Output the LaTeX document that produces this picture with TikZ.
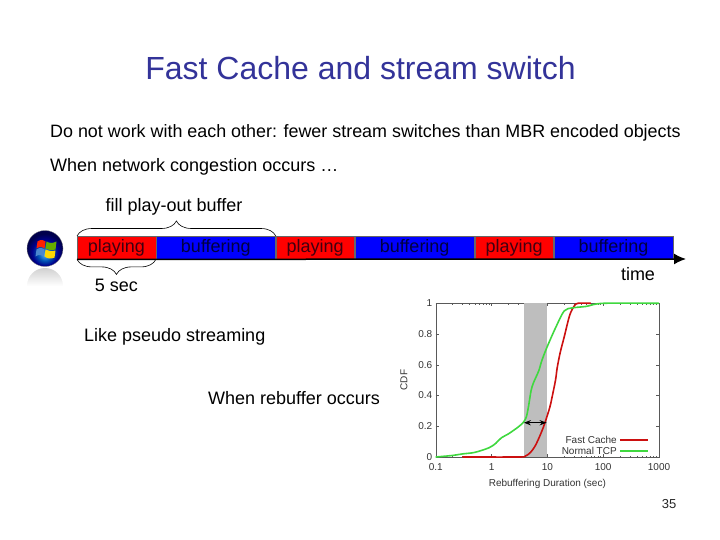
\documentclass[tikz,border=0pt]{standalone}
\usepackage{fontspec}
\setmainfont{Liberation Sans}
\usepackage{pgfplots}
\pgfplotsset{compat=1.18}
\usepackage{xcolor}
\definecolor{titleblue}{HTML}{333399}
\definecolor{playred}{HTML}{FF0000}
\definecolor{bufblue}{HTML}{0000FF}
\definecolor{playtext}{HTML}{400010}
\definecolor{buftext}{HTML}{000040}
\definecolor{plotgray}{HTML}{BEBEBE}
\definecolor{plotred}{HTML}{CC1010}
\definecolor{plotgreen}{HTML}{3FD83F}
\usetikzlibrary{arrows.meta, positioning, decorations.pathreplacing, calc}
\pgfdeclareradialshading{orbshade}{\pgfpoint{0bp}{-9bp}}{
    color(0bp)=(cyan!55!blue!70!white);
    color(10bp)=(cyan!45!blue!70!black);
    color(18bp)=(blue!55!black);
    color(25bp)=(blue!30!black);
    color(50bp)=(blue!30!black)}

\begin{document}
\begin{tikzpicture}[
        x=1pt, y=-1pt,
        node distance=0pt,
        title_text/.style={font=\fontsize{32}{38}\selectfont, text=titleblue},
        body_text/.style={font=\fontsize{18}{21}\selectfont, text=black, inner sep=0pt},
        play_seg/.style={
            rectangle,
            fill=playred,
            draw=black!60,
            line width=0.4pt,
            minimum width=78.5pt,
            minimum height=23pt,
            inner sep=0pt,
            font=\fontsize{18}{21}\selectfont,
            text=playtext
        },
        buf_seg/.style={
            rectangle,
            fill=bufblue,
            draw=black!60,
            line width=0.4pt,
            minimum width=119.5pt,
            minimum height=23pt,
            inner sep=0pt,
            font=\fontsize{18}{21}\selectfont,
            text=buftext
        },
        arrow/.style={
            -{Latex[length=12pt, width=11pt]},
            draw=black,
            line width=1.5pt
        },
        curly/.style={
            decorate,
            decoration={brace, amplitude=15pt},
            draw=black,
            line width=0.6pt
        }
    ]
    \useasboundingbox (0,0) rectangle (720,540);

    % Heading and the two text lines
    \node[title_text] (title) at (360.5,68) {Fast Cache and stream switch};
    \node[body_text, font=\fontsize{17.9}{21}\selectfont, anchor=west] (line1) at (50,133) {Do not work with each other: fewer stream switches than MBR encoded objects};
    \node[body_text, anchor=west] (line2) at (50,167) {When network congestion occurs …};

    % Play and buffer bar
    \node[play_seg, anchor=north west] (play1) at (77,236) {playing};
    \node[buf_seg, right=of play1] (buf1) {buffering};
    \node[play_seg, right=of buf1] (play2) {playing};
    \node[buf_seg, right=of play2] (buf2) {buffering};
    \node[play_seg, right=of buf2] (play3) {playing};
    \node[buf_seg, right=of play3] (buf3) {buffering};

    % Time axis
    \coordinate (timeend) at (686,259);
    \draw[arrow] (play1.south west) -- (timeend);
    \node[body_text] (time) at (638,274) {time};

    % Braces
    \draw[curly] (play1.north west) -- (buf1.north east);
    \node[body_text] (fill) at (174,207) {fill play-out buffer};
    \draw[curly] (play1.south east) -- (play1.south west);
    \node[body_text] (fivesec) at (116.5,285) {5 sec};

    % Notes
    \node[body_text, anchor=west] (pseudo) at (84,337) {Like pseudo streaming};
    \node[body_text, anchor=west] (rebuffer) at (208,398) {When rebuffer occurs};
    \node[font=\fontsize{13}{15}\selectfont, text=black!85] (page) at (669,504) {35};

    % Windows logo
    \begin{scope}
        \clip (45,286) circle (18);
        \shade[top color=black!18, bottom color=white] (25,268) rectangle (65,286);
        \fill[white] (25,286) rectangle (65,306);
    \end{scope}
    \node[circle, minimum size=36pt, inner sep=0pt, draw=black!50, line width=0.3pt,
        shading=orbshade] (logo) at (45,248.5) {};
    \begin{scope}[shift={(1.5,1.5)}]
        \fill[red!75!orange] (36,240) .. controls (39,238) and (41,238) .. (44,240) -- (43,247) .. controls (40,245) and (38,245) .. (35,247) -- cycle;
        \fill[green!45!black!60!yellow] (45,240) .. controls (48,242) and (51,242) .. (55,240) -- (54,248) .. controls (50,249) and (47,249) .. (44,247) -- cycle;
        \fill[cyan!50!blue!75!white] (35,248) .. controls (38,246) and (40,246) .. (43,248) -- (42,255) .. controls (39,253) and (37,253) .. (34,255) -- cycle;
        \fill[yellow!75!orange] (44,248) .. controls (47,250) and (50,250) .. (54,249) -- (53,256) .. controls (49,258) and (46,257) .. (43,255) -- cycle;
    \end{scope}

    % Rebuffering plot
    \begin{axis}[
            name=cdfplot,
            at={(435.7pt,-457pt)},
            anchor=south west,
            y dir=normal,
            scale only axis,
            clip=false,
            width=223.3pt,
            height=153.7pt,
            xmode=log,
            xmin=0.1, xmax=1000,
            ymin=0, ymax=1,
            xtick={0.1,1,10,100,1000},
            xticklabels={0.1,1,10,100,1000},
            ytick={0,0.2,0.4,0.6,0.8,1},
            yticklabels={0,0.2,0.4,0.6,0.8,1},
            tick align=inside,
            axis line style={draw=black!65, line width=0.4pt},
            tick style={draw=black!65, line width=0.4pt},
            major tick length=3pt,
            minor tick length=1.5pt,
            every tick label/.append style={font=\fontsize{10}{12}\selectfont, text=black!80},
            xticklabel style={yshift=-3pt},
            xlabel={Rebuffering Duration (sec)},
            ylabel={CDF},
            every axis label/.append style={font=\fontsize{10}{12}\selectfont, text=black!80},
            xlabel style={yshift=-2pt},
            ylabel style={yshift=4pt},
            legend plot pos=right,
            legend cell align=right,
            legend image code/.code={\draw[#1, line width=2pt] (0pt,0pt) -- (28pt,0pt);},
            legend style={draw=none, fill=none, at={(0.955,-0.005)}, anchor=south east,
                font=\fontsize{10}{12}\selectfont, text=black!80,
                row sep=-2pt, inner sep=0pt}
        ]
        \fill[plotgray] (axis cs:3.8,0) rectangle (axis cs:9.7,1);
        \addplot[plotred, line width=1.6pt, smooth] coordinates {
            (0.3,0) (3,0) (4,0.005) (5,0.03) (6,0.07) (7,0.12) (8,0.17) (9,0.22)
            (11,0.32) (12,0.38) (14,0.5) (15,0.58) (17,0.68) (20,0.78) (25,0.92)
            (30,0.98) (35,1) (60,1)};
        \addlegendentry{Fast Cache}
        \addplot[plotgreen, line width=1.6pt, smooth] coordinates {
            (0.1,0) (0.2,0.01) (0.3,0.02) (0.5,0.03) (0.9,0.06) (1.2,0.09) (1.5,0.125)
            (2,0.15) (3,0.195) (3.7,0.225) (4.2,0.26) (4.6,0.33) (5.1,0.43) (5.6,0.48)
            (7,0.56) (8,0.63) (10,0.72) (14,0.84) (20,0.95) (28,0.97) (50,0.98)
            (100,1) (1000,1)};
        \addlegendentry{Normal TCP}
        \coordinate (gapleft) at (axis cs:3.8,0.223);
        \coordinate (gapright) at (axis cs:9.7,0.223);
    \end{axis}
    \draw[{Stealth[length=7pt]}-{Stealth[length=7pt]}, line width=1.2pt] (gapleft) -- (gapright);

\end{tikzpicture}
\end{document}
